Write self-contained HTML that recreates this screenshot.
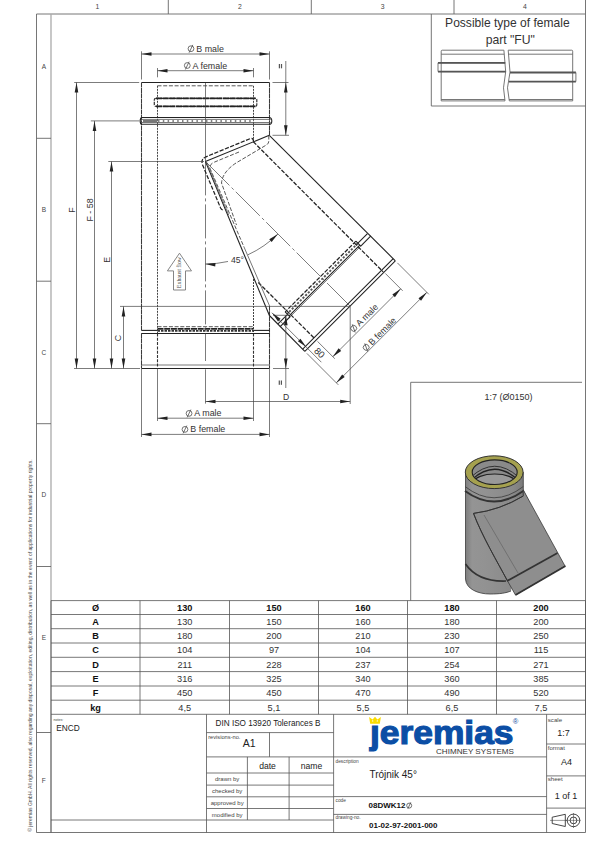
<!DOCTYPE html>
<html><head><meta charset="utf-8"><style>
html,body{margin:0;padding:0;background:#fff;}
svg{display:block;}
text{font-family:"Liberation Sans",sans-serif;fill:#333;}
.o{stroke:#222;stroke-width:1.1;fill:none;}
.ol{stroke:#555;stroke-width:0.8;fill:none;}
.thick{stroke:#444;stroke-width:1.8;fill:none;}
.hd{stroke:#222;stroke-width:1.25;fill:none;stroke-dasharray:4.2 1.5;}
.hd2{stroke:#444;stroke-width:1;fill:none;stroke-dasharray:2 1;}
.hdt{stroke:#333;stroke-width:1.2;fill:none;stroke-dasharray:3.2 1;}
.gdot{stroke:#555;stroke-width:1.9;fill:none;stroke-dasharray:2.2 1.6;}
.hdl{stroke:#444;stroke-width:0.9;fill:none;stroke-dasharray:4 1.7;}
.hd3{stroke:#333;stroke-width:1.1;fill:none;stroke-dasharray:3 1.3;}
.gdot2{stroke:#333;stroke-width:1.7;fill:none;stroke-dasharray:2.5 1;}
.ins{stroke:#666;stroke-width:0.9;fill:none;}
.insk{stroke:#555;stroke-width:1.8;fill:none;}
.dsym{stroke:#444;stroke-width:0.75;fill:none;}
.od{stroke:#3a3a3a;stroke-width:1.05;fill:none;stroke-dasharray:5 0.4;}
.gfill{stroke:#777;stroke-width:2.2;fill:none;}
.dots2{stroke:#555;stroke-width:1.4;fill:none;stroke-dasharray:1.5 3.3;}
.dots{stroke:#666;stroke-width:0.9;fill:none;stroke-dasharray:1 2.4;}
.cl{stroke:#444;stroke-width:0.7;fill:none;stroke-dasharray:34 3 3 3;}
.dim{stroke:#444;stroke-width:0.7;fill:none;}
.ar{fill:#222;stroke:none;}
.fr{stroke:#666;stroke-width:0.9;fill:none;}
.fr2{stroke:#aaa;stroke-width:1.3;fill:none;}
.tb{stroke:#555;stroke-width:0.8;fill:none;}
.t{fill:#333;}
.ea{stroke:#777;stroke-width:0.9;fill:none;}
.hdt2{stroke:#222;stroke-width:1.7;fill:none;stroke-dasharray:6 0.7;}
.t2{fill:#222;}
.zl{fill:#444;}
.cp{fill:#444;}
.big{fill:#333;}
.sm{fill:#444;}
.tbb{fill:#111;font-weight:bold;}
.tbr{fill:#333;}
.ser{font-family:"Liberation Serif",serif;fill:#444;}
.sym{stroke:#333;stroke-width:0.9;fill:none;}
.symt{stroke:#333;stroke-width:0.5;fill:none;}
.logo{font-weight:bold;fill:#0b4ea5;stroke:#0b4ea5;stroke-width:1.2;font-family:"Liberation Sans",sans-serif;}
.crown{fill:#fbdc00;stroke:none;}
.reg{fill:#0d4a9e;}
.cs{fill:#333;}
</style></head>
<body><svg width="600" height="848" viewBox="0 0 600 848">
<line x1="36.5" y1="14" x2="585.5" y2="14" class="fr"/>
<line x1="36.5" y1="14" x2="36.5" y2="832.5" class="fr"/>
<line x1="51" y1="14" x2="51" y2="832.5" class="fr2"/>
<line x1="585.5" y1="0" x2="585.5" y2="832.5" class="fr"/>
<line x1="36.5" y1="832.5" x2="585.5" y2="832.5" class="fr"/>
<line x1="36.5" y1="138.3" x2="51" y2="138.3" class="fr"/>
<line x1="36.5" y1="281.2" x2="51" y2="281.2" class="fr"/>
<line x1="36.5" y1="423.7" x2="51" y2="423.7" class="fr"/>
<line x1="36.5" y1="566.5" x2="51" y2="566.5" class="fr"/>
<line x1="36.5" y1="732.5" x2="51" y2="732.5" class="fr"/>
<line x1="168.3" y1="0" x2="168.3" y2="14" class="fr"/>
<line x1="311.3" y1="0" x2="311.3" y2="14" class="fr"/>
<line x1="454" y1="0" x2="454" y2="14" class="fr"/>
<text x="97.5" y="9" font-size="6.8" text-anchor="middle" class="zl">1</text>
<text x="239.8" y="9" font-size="6.8" text-anchor="middle" class="zl">2</text>
<text x="382.6" y="9" font-size="6.8" text-anchor="middle" class="zl">3</text>
<text x="525" y="9" font-size="6.8" text-anchor="middle" class="zl">4</text>
<text x="43.8" y="68.7" font-size="6.5" text-anchor="middle" class="zl">A</text>
<text x="43.8" y="212.1" font-size="6.5" text-anchor="middle" class="zl">B</text>
<text x="43.8" y="354.8" font-size="6.5" text-anchor="middle" class="zl">C</text>
<text x="43.8" y="497.3" font-size="6.5" text-anchor="middle" class="zl">D</text>
<text x="43.8" y="640.2" font-size="6.5" text-anchor="middle" class="zl">E</text>
<text x="43.8" y="782.8" font-size="6.5" text-anchor="middle" class="zl">F</text>
<text x="31.9" y="831.8" font-size="5.4" text-anchor="start" class="cp" transform="rotate(-90 31.9 831.8)" textLength="372.4" lengthAdjust="spacingAndGlyphs">© jeremias GmbH. All rights reserved, also regarding any disposal, exploitation, editing, distribution, as well as in the event of applications for industrial property rights.</text>
<line x1="431.3" y1="14" x2="431.3" y2="106" class="fr"/>
<line x1="431.3" y1="106" x2="585.5" y2="106" class="fr"/>
<text x="507.4" y="27" font-size="12.05" text-anchor="middle" class="big">Possible type of female</text>
<text x="510.3" y="43.5" font-size="12.2" text-anchor="middle" class="big">part "FU"</text>
<path d="M441.2,100.9 L441.2,51.2 Q441.2,50.2 442.2,50.2 L503.9,50.2 L505.7,71.7 L503.5,87.8 L505,100.9 Z" class="ins"/>
<line x1="441.2" y1="54.2" x2="504.2" y2="54.2" class="ins"/>
<line x1="441.2" y1="99.5" x2="504.9" y2="99.5" class="ins"/>
<path d="M438,62.8 L505.2,62.8 M438,71.6 L505.7,71.6 M438,62.8 L438,71.6" class="ins"/>
<line x1="438" y1="62.8" x2="505.2" y2="62.8" class="insk"/>
<line x1="438" y1="71.6" x2="505.7" y2="71.6" class="insk"/>
<path d="M509.3,100.9 L507.5,87.8 L510,72.1 L508.2,50.2 L571.7,50.2 Q572.7,50.2 572.7,51.2 L572.7,100.9 Z" class="ins"/>
<line x1="508.5" y1="54.2" x2="572.7" y2="54.2" class="ins"/>
<line x1="509.1" y1="99.5" x2="572.7" y2="99.5" class="ins"/>
<path d="M575.9,72.5 L575.9,81.6" class="ins"/>
<line x1="510" y1="72.5" x2="575.9" y2="72.5" class="insk"/>
<line x1="509" y1="81.6" x2="575.9" y2="81.6" class="insk"/>
<line x1="141.5" y1="82.5" x2="269.5" y2="82.5" class="o"/>
<line x1="141.5" y1="82.5" x2="141.5" y2="330.4" class="od"/>
<line x1="141.5" y1="333.2" x2="141.5" y2="368.5" class="od"/>
<line x1="269.5" y1="82.5" x2="269.5" y2="135.3" class="od"/>
<line x1="269.5" y1="305.8" x2="269.5" y2="368.5" class="od"/>
<line x1="141.5" y1="368.5" x2="269.5" y2="368.5" class="o"/>
<line x1="141.5" y1="365" x2="269.5" y2="365" class="ol"/>
<line x1="157.5" y1="85.8" x2="253.5" y2="85.8" class="hdl"/>
<line x1="157.5" y1="85.8" x2="157.5" y2="333.5" class="hd2"/>
<line x1="157.5" y1="333.5" x2="157.5" y2="368.5" class="hd3"/>
<line x1="253.5" y1="85.8" x2="253.5" y2="141.6" class="hd2"/>
<line x1="253.5" y1="279" x2="253.5" y2="333.5" class="hd2"/>
<line x1="253.5" y1="333.5" x2="253.5" y2="368.5" class="hd3"/>
<path d="M156,98.3 L255.5,98.3 Q256.8,98.3 256.8,99.8 L256.8,104.8 Q256.8,106.3 255.5,106.3 L156,106.3 Q154.3,106.3 154.3,104.8 L154.3,99.8 Q154.3,98.3 156,98.3 Z" class="hdt"/>
<line x1="156" y1="98.3" x2="255.5" y2="98.3" class="hdt2"/>
<line x1="156" y1="106.3" x2="255.5" y2="106.3" class="hdt2"/>
<path d="M142,117.5 L269,117.5 Q271.8,117.5 271.8,120.9 Q271.8,124.3 269,124.3 L142,124.3 Q140.2,124.3 140.2,120.9 Q140.2,117.5 142,117.5 Z" class="o"/>
<line x1="141" y1="119.4" x2="270.8" y2="119.4" class="ol"/>
<line x1="141" y1="122.5" x2="270.8" y2="122.5" class="ol"/>
<line x1="143" y1="120.95" x2="157" y2="120.95" class="gfill"/>
<line x1="158" y1="120.95" x2="253" y2="120.95" class="dots2"/>
<line x1="141.5" y1="330.4" x2="157.5" y2="330.4" class="o"/>
<line x1="253.5" y1="330.4" x2="269.5" y2="330.4" class="o"/>
<line x1="141.5" y1="333.5" x2="269.5" y2="333.5" class="o"/>
<line x1="157.5" y1="326.7" x2="253.5" y2="326.7" class="hdl"/>
<line x1="157.5" y1="328.8" x2="253.5" y2="328.8" class="hdt2"/>
<line x1="157.5" y1="330.9" x2="253.5" y2="330.9" class="gdot2"/>
<line x1="205.5" y1="83" x2="205.5" y2="161.4" class="dim"/>
<line x1="205.5" y1="161.4" x2="205.5" y2="361" class="cl"/>
<line x1="205.5" y1="369.3" x2="205.5" y2="403.6" class="dim"/>
<line x1="205.4" y1="161.4" x2="269.3" y2="135.3" class="o"/>
<line x1="269.3" y1="135.3" x2="395.33" y2="260.82" class="o"/>
<line x1="205.4" y1="161.4" x2="269.4" y2="315.5" class="o"/>
<line x1="206.9" y1="162.5" x2="228.7" y2="215" class="ol"/>
<line x1="269.4" y1="315.5" x2="304.82" y2="351.33" class="o"/>
<line x1="395.33" y1="260.82" x2="304.82" y2="351.33" class="o"/>
<line x1="393.21" y1="258.7" x2="302.7" y2="349.21" class="o"/>
<line x1="370.86" y1="235.93" x2="360.75" y2="246.04" class="o"/>
<line x1="367.47" y1="233.67" x2="357.92" y2="243.21" class="o"/>
<line x1="290.04" y1="316.75" x2="280.14" y2="326.65" class="o"/>
<line x1="287.57" y1="314.28" x2="278.02" y2="323.82" class="o"/>
<line x1="355.87" y1="241.16" x2="285.16" y2="311.87" class="hd"/>
<line x1="357.92" y1="243.21" x2="287.21" y2="313.92" class="gdot"/>
<line x1="359.83" y1="245.12" x2="289.12" y2="315.83" class="o"/>
<line x1="360.82" y1="246.11" x2="290.11" y2="316.82" class="ol"/>
<path d="M285.16,311.87 L290.11,316.82" class="o"/>
<path d="M355.87,241.16 L360.82,246.11" class="o"/>
<line x1="253.3" y1="141.7" x2="383.17" y2="271.85" class="hd"/>
<line x1="258.3" y1="282.5" x2="314.44" y2="338.32" class="hd"/>
<path d="M253.5,141.6 Q253.5,137.6 250.2,138.6 L206,156.8 Q200.3,159.3 202.6,165 L220.6,208 Q221.5,210 223.5,209.8" class="hd"/>
<path d="M268.8,135.5 L268.8,141 Q268.8,144 265.5,145.5 L236,163 Q222.5,172 221.5,183 L236.5,225" class="hdl"/>
<path d="M239,152 L214,162.3 Q208.5,164.8 210.5,169.5 L244,247" class="hdl"/>
<line x1="244" y1="247" x2="269.5" y2="305.8" class="ol"/>
<line x1="205.4" y1="161.4" x2="350.07" y2="306.07" class="cl"/>
<line x1="141.5" y1="51.3" x2="141.5" y2="79.5" class="dim"/>
<line x1="269.5" y1="51.3" x2="269.5" y2="79.5" class="dim"/>
<line x1="141.5" y1="54" x2="269.5" y2="54" class="dim"/>
<polygon points="141.5,54 151.5,52.2 151.5,55.8" class="ar"/>
<polygon points="269.5,54 259.5,55.8 259.5,52.2" class="ar"/>
<g><circle cx="191" cy="48.7" r="2.9" class="dsym"/><line x1="189.1" y1="52.7" x2="192.8" y2="44.9" class="dsym"/><text x="196.3" y="51.7" font-size="8.9" text-anchor="start" class="t">B male</text></g>
<line x1="157.5" y1="68" x2="157.5" y2="77.3" class="dim"/>
<line x1="253.5" y1="68" x2="253.5" y2="77.3" class="dim"/>
<line x1="157.5" y1="70.7" x2="253.5" y2="70.7" class="dim"/>
<polygon points="157.5,70.7 167.5,68.9 167.5,72.5" class="ar"/>
<polygon points="253.5,70.7 243.5,72.5 243.5,68.9" class="ar"/>
<g><circle cx="187.28" cy="65.5" r="2.9" class="dsym"/><line x1="185.38" y1="69.5" x2="189.08" y2="61.7" class="dsym"/><text x="192.58" y="68.5" font-size="8.9" text-anchor="start" class="t">A female</text></g>
<line x1="272.5" y1="82.5" x2="288.5" y2="82.5" class="dim"/>
<line x1="272.5" y1="135.3" x2="289" y2="135.3" class="dim"/>
<line x1="285.8" y1="61" x2="285.8" y2="135.3" class="dim"/>
<polygon points="285.8,82.5 287.6,92.5 284,92.5" class="ar"/>
<polygon points="285.8,135.3 284,125.3 287.6,125.3" class="ar"/>
<rect x="278.8" y="64" width="1.2" height="4.3" fill="#555"/><rect x="280.9" y="64" width="1.2" height="4.3" fill="#555"/>
<line x1="74.2" y1="82.5" x2="139.2" y2="82.5" class="dim"/>
<line x1="76.5" y1="82.5" x2="76.5" y2="368.5" class="dim"/>
<polygon points="76.5,82.5 78.3,92.5 74.7,92.5" class="ar"/>
<polygon points="76.5,368.5 74.7,358.5 78.3,358.5" class="ar"/>
<text x="75.2" y="210" font-size="8.9" text-anchor="middle" class="t" transform="rotate(-90 75.2 210)">F</text>
<line x1="90.8" y1="120.9" x2="139.5" y2="120.9" class="dim"/>
<line x1="94.5" y1="120.9" x2="94.5" y2="368.5" class="dim"/>
<polygon points="94.5,120.9 96.3,130.9 92.7,130.9" class="ar"/>
<polygon points="94.5,368.5 92.7,358.5 96.3,358.5" class="ar"/>
<text x="92.9" y="210" font-size="8.9" text-anchor="middle" class="t" transform="rotate(-90 92.9 210)">F - 58</text>
<line x1="108.3" y1="161.5" x2="204" y2="161.5" class="dim"/>
<line x1="111.5" y1="161.5" x2="111.5" y2="368.5" class="dim"/>
<polygon points="111.5,161.5 113.3,171.5 109.7,171.5" class="ar"/>
<polygon points="111.5,368.5 109.7,358.5 113.3,358.5" class="ar"/>
<text x="109.8" y="259.8" font-size="8.9" text-anchor="middle" class="t" transform="rotate(-90 109.8 259.8)">E</text>
<line x1="120" y1="306.4" x2="350.2" y2="306.4" class="dim"/>
<line x1="123.5" y1="306.4" x2="123.5" y2="368.5" class="dim"/>
<polygon points="123.5,306.4 125.3,316.4 121.7,316.4" class="ar"/>
<polygon points="123.5,368.5 121.7,358.5 125.3,358.5" class="ar"/>
<text x="121.4" y="338" font-size="8.9" text-anchor="middle" class="t" transform="rotate(-90 121.4 338)">C</text>
<line x1="74" y1="368.5" x2="140" y2="368.5" class="dim"/>
<path d="M173.5,290 L173.5,270.9 L167.4,270.9 L179.5,253.2 L191.5,270.9 L185.5,270.9 L185.5,290 Z" class="ea"/>
<text x="181" y="272.5" font-size="5.9" text-anchor="middle" class="ser" transform="rotate(-90 181 272.5)">Exhaust flow</text>
<path d="M205.4,264 A102.6,102.6 0 0 0 228,261.48" class="dim"/>
<path d="M248,254.74 A102.6,102.6 0 0 0 277.95,233.95" class="dim"/>
<polygon points="205.4,264 215.51,263 215.22,266.59" class="ar"/>
<polygon points="277.95,233.95 271.63,241.91 269.25,239.2" class="ar"/>
<text x="237.5" y="262.5" font-size="8.6" text-anchor="middle" class="t">45°</text>
<line x1="157.5" y1="369" x2="157.5" y2="421" class="dim"/>
<line x1="253.5" y1="369" x2="253.5" y2="421" class="dim"/>
<line x1="157.5" y1="418.2" x2="253.5" y2="418.2" class="dim"/>
<polygon points="157.5,418.2 167.5,416.4 167.5,420" class="ar"/>
<polygon points="253.5,418.2 243.5,420 243.5,416.4" class="ar"/>
<g><circle cx="189.05" cy="413.4" r="2.9" class="dsym"/><line x1="187.15" y1="417.4" x2="190.85" y2="409.6" class="dsym"/><text x="194.35" y="416.4" font-size="8.9" text-anchor="start" class="t">A male</text></g>
<line x1="141.5" y1="369" x2="141.5" y2="437" class="dim"/>
<line x1="269.5" y1="369" x2="269.5" y2="437" class="dim"/>
<line x1="141.5" y1="434.4" x2="269.5" y2="434.4" class="dim"/>
<polygon points="141.5,434.4 151.5,432.6 151.5,436.2" class="ar"/>
<polygon points="269.5,434.4 259.5,436.2 259.5,432.6" class="ar"/>
<g><circle cx="184.99" cy="429.4" r="2.9" class="dsym"/><line x1="183.09" y1="433.4" x2="186.79" y2="425.6" class="dsym"/><text x="190.29" y="432.4" font-size="8.9" text-anchor="start" class="t">B female</text></g>
<line x1="350.2" y1="306.4" x2="350.2" y2="404" class="dim"/>
<line x1="205.5" y1="401.5" x2="350.2" y2="401.5" class="dim"/>
<polygon points="205.5,401.5 215.5,399.7 215.5,403.3" class="ar"/>
<polygon points="350.2,401.5 340.2,403.3 340.2,399.7" class="ar"/>
<text x="286" y="399.6" font-size="8.6" text-anchor="middle" class="t">D</text>
<line x1="273" y1="315.3" x2="288" y2="315.3" class="dim"/>
<line x1="285.8" y1="315.3" x2="285.8" y2="388" class="dim"/>
<polygon points="285.8,315.3 287.6,325.3 284,325.3" class="ar"/>
<polygon points="285.8,368.5 284,358.5 287.6,358.5" class="ar"/>
<line x1="273" y1="368.5" x2="289" y2="368.5" class="dim"/>
<rect x="278.7" y="380.5" width="1.2" height="4.3" fill="#555"/><rect x="280.8" y="380.5" width="1.2" height="4.3" fill="#555"/>
<line x1="385.36" y1="273.48" x2="402.68" y2="290.8" class="dim"/>
<line x1="317.48" y1="341.36" x2="334.8" y2="358.68" class="dim"/>
<line x1="400.7" y1="288.82" x2="332.82" y2="356.7" class="dim"/>
<polygon points="400.7,288.82 394.9,297.16 392.36,294.62" class="ar"/>
<polygon points="332.82,356.7 338.62,348.36 341.16,350.9" class="ar"/>
<g transform="rotate(-45 366.27 320)"><circle cx="351.51" cy="317" r="2.9" class="dsym"/><line x1="349.61" y1="321" x2="353.31" y2="313.2" class="dsym"/><text x="356.81" y="320" font-size="8.9" text-anchor="start" class="t">A male</text></g>
<line x1="397.38" y1="262.87" x2="428.85" y2="294.34" class="dim"/>
<line x1="306.87" y1="353.38" x2="338.34" y2="384.85" class="dim"/>
<line x1="426.87" y1="292.36" x2="336.36" y2="382.87" class="dim"/>
<polygon points="426.87,292.36 421.07,300.7 418.52,298.15" class="ar"/>
<polygon points="336.36,382.87 342.15,374.52 344.7,377.07" class="ar"/>
<g transform="rotate(-45 381.54 336.27)"><circle cx="362.83" cy="333.27" r="2.9" class="dsym"/><line x1="360.93" y1="337.27" x2="364.63" y2="329.47" class="dsym"/><text x="368.13" y="336.27" font-size="8.9" text-anchor="start" class="t">B female</text></g>
<line x1="271.87" y1="312.72" x2="321.37" y2="362.22" class="dim"/>
<polygon points="272.22,313.07 280.57,318.87 278.02,321.42" class="ar"/>
<polygon points="306.23,347.09 297.89,341.29 300.44,338.74" class="ar"/>
<text x="317.19" y="355.08" font-size="9.4" text-anchor="middle" class="t" transform="rotate(45 317.19 355.08)">80</text>
<line x1="410.7" y1="382.3" x2="582" y2="382.3" class="fr"/>
<line x1="410.7" y1="382.3" x2="410.7" y2="600.5" class="fr"/>
<text x="508.5" y="399.8" font-size="9" text-anchor="middle" class="t">1:7 (Ø0150)</text>
<line x1="51" y1="600.6" x2="585.5" y2="600.6" class="tb"/>
<line x1="51" y1="614.5" x2="585.5" y2="614.5" class="tb"/>
<line x1="51" y1="628.7" x2="585.5" y2="628.7" class="tb"/>
<line x1="51" y1="643" x2="585.5" y2="643" class="tb"/>
<line x1="51" y1="657.3" x2="585.5" y2="657.3" class="tb"/>
<line x1="51" y1="671.6" x2="585.5" y2="671.6" class="tb"/>
<line x1="51" y1="686" x2="585.5" y2="686" class="tb"/>
<line x1="51" y1="700.2" x2="585.5" y2="700.2" class="tb"/>
<line x1="51" y1="714.3" x2="585.5" y2="714.3" class="tb"/>
<line x1="51" y1="600.6" x2="51" y2="714.3" class="tb"/>
<line x1="140" y1="600.6" x2="140" y2="714.3" class="tb"/>
<line x1="229.5" y1="600.6" x2="229.5" y2="714.3" class="tb"/>
<line x1="318.5" y1="600.6" x2="318.5" y2="714.3" class="tb"/>
<line x1="407.5" y1="600.6" x2="407.5" y2="714.3" class="tb"/>
<line x1="496.5" y1="600.6" x2="496.5" y2="714.3" class="tb"/>
<line x1="585.5" y1="600.6" x2="585.5" y2="714.3" class="tb"/>
<text x="95.5" y="610.9" font-size="9.2" text-anchor="middle" class="tbb">Ø</text>
<text x="184.75" y="610.9" font-size="9.2" text-anchor="middle" class="tbb">130</text>
<text x="274" y="610.9" font-size="9.2" text-anchor="middle" class="tbb">150</text>
<text x="363" y="610.9" font-size="9.2" text-anchor="middle" class="tbb">160</text>
<text x="452" y="610.9" font-size="9.2" text-anchor="middle" class="tbb">180</text>
<text x="541" y="610.9" font-size="9.2" text-anchor="middle" class="tbb">200</text>
<text x="95.5" y="624.8" font-size="9.2" text-anchor="middle" class="tbb">A</text>
<text x="184.75" y="624.8" font-size="9.2" text-anchor="middle" class="tbr">130</text>
<text x="274" y="624.8" font-size="9.2" text-anchor="middle" class="tbr">150</text>
<text x="363" y="624.8" font-size="9.2" text-anchor="middle" class="tbr">160</text>
<text x="452" y="624.8" font-size="9.2" text-anchor="middle" class="tbr">180</text>
<text x="541" y="624.8" font-size="9.2" text-anchor="middle" class="tbr">200</text>
<text x="95.5" y="639" font-size="9.2" text-anchor="middle" class="tbb">B</text>
<text x="184.75" y="639" font-size="9.2" text-anchor="middle" class="tbr">180</text>
<text x="274" y="639" font-size="9.2" text-anchor="middle" class="tbr">200</text>
<text x="363" y="639" font-size="9.2" text-anchor="middle" class="tbr">210</text>
<text x="452" y="639" font-size="9.2" text-anchor="middle" class="tbr">230</text>
<text x="541" y="639" font-size="9.2" text-anchor="middle" class="tbr">250</text>
<text x="95.5" y="653.3" font-size="9.2" text-anchor="middle" class="tbb">C</text>
<text x="184.75" y="653.3" font-size="9.2" text-anchor="middle" class="tbr">104</text>
<text x="274" y="653.3" font-size="9.2" text-anchor="middle" class="tbr">97</text>
<text x="363" y="653.3" font-size="9.2" text-anchor="middle" class="tbr">104</text>
<text x="452" y="653.3" font-size="9.2" text-anchor="middle" class="tbr">107</text>
<text x="541" y="653.3" font-size="9.2" text-anchor="middle" class="tbr">115</text>
<text x="95.5" y="667.6" font-size="9.2" text-anchor="middle" class="tbb">D</text>
<text x="184.75" y="667.6" font-size="9.2" text-anchor="middle" class="tbr">211</text>
<text x="274" y="667.6" font-size="9.2" text-anchor="middle" class="tbr">228</text>
<text x="363" y="667.6" font-size="9.2" text-anchor="middle" class="tbr">237</text>
<text x="452" y="667.6" font-size="9.2" text-anchor="middle" class="tbr">254</text>
<text x="541" y="667.6" font-size="9.2" text-anchor="middle" class="tbr">271</text>
<text x="95.5" y="681.9" font-size="9.2" text-anchor="middle" class="tbb">E</text>
<text x="184.75" y="681.9" font-size="9.2" text-anchor="middle" class="tbr">316</text>
<text x="274" y="681.9" font-size="9.2" text-anchor="middle" class="tbr">325</text>
<text x="363" y="681.9" font-size="9.2" text-anchor="middle" class="tbr">340</text>
<text x="452" y="681.9" font-size="9.2" text-anchor="middle" class="tbr">360</text>
<text x="541" y="681.9" font-size="9.2" text-anchor="middle" class="tbr">385</text>
<text x="95.5" y="696.3" font-size="9.2" text-anchor="middle" class="tbb">F</text>
<text x="184.75" y="696.3" font-size="9.2" text-anchor="middle" class="tbr">450</text>
<text x="274" y="696.3" font-size="9.2" text-anchor="middle" class="tbr">450</text>
<text x="363" y="696.3" font-size="9.2" text-anchor="middle" class="tbr">470</text>
<text x="452" y="696.3" font-size="9.2" text-anchor="middle" class="tbr">490</text>
<text x="541" y="696.3" font-size="9.2" text-anchor="middle" class="tbr">520</text>
<text x="95.5" y="710.5" font-size="9.2" text-anchor="middle" class="tbb">kg</text>
<text x="184.75" y="710.5" font-size="9.2" text-anchor="middle" class="tbr">4,5</text>
<text x="274" y="710.5" font-size="9.2" text-anchor="middle" class="tbr">5,1</text>
<text x="363" y="710.5" font-size="9.2" text-anchor="middle" class="tbr">5,5</text>
<text x="452" y="710.5" font-size="9.2" text-anchor="middle" class="tbr">6,5</text>
<text x="541" y="710.5" font-size="9.2" text-anchor="middle" class="tbr">7,5</text>
<line x1="51" y1="820" x2="333.6" y2="820" class="tb"/>
<line x1="51" y1="714.3" x2="51" y2="832.5" class="tb"/>
<line x1="206.5" y1="714.3" x2="206.5" y2="832.5" class="tb"/>
<line x1="333.6" y1="714.3" x2="333.6" y2="832.5" class="tb"/>
<line x1="546.6" y1="714.3" x2="546.6" y2="832.5" class="tb"/>
<line x1="206.5" y1="732.6" x2="333.6" y2="732.6" class="tb"/>
<line x1="206.5" y1="756.9" x2="546.6" y2="756.9" class="tb"/>
<line x1="269.5" y1="732.6" x2="269.5" y2="756.9" class="tb"/>
<line x1="247.4" y1="756.9" x2="247.4" y2="820" class="tb"/>
<line x1="289.1" y1="756.9" x2="289.1" y2="820" class="tb"/>
<line x1="206.5" y1="773" x2="333.6" y2="773" class="tb"/>
<line x1="206.5" y1="785.1" x2="333.6" y2="785.1" class="tb"/>
<line x1="206.5" y1="796.8" x2="333.6" y2="796.8" class="tb"/>
<line x1="206.5" y1="808.5" x2="333.6" y2="808.5" class="tb"/>
<line x1="333.6" y1="796.6" x2="546.6" y2="796.6" class="tb"/>
<line x1="333.6" y1="814.4" x2="546.6" y2="814.4" class="tb"/>
<line x1="546.6" y1="744" x2="585.5" y2="744" class="tb"/>
<line x1="546.6" y1="775.9" x2="585.5" y2="775.9" class="tb"/>
<line x1="546.6" y1="808.1" x2="585.5" y2="808.1" class="tb"/>
<text x="53.5" y="720.5" font-size="3.6" text-anchor="start" class="sm">notes:</text>
<text x="56.3" y="731.2" font-size="8.3" text-anchor="start" class="t2">ENCD</text>
<text x="268" y="725.9" font-size="8.2" text-anchor="middle" class="t2">DIN ISO 13920 Tolerances B</text>
<text x="208.2" y="738.5" font-size="5.7" text-anchor="start" class="sm">revisions-no.</text>
<text x="249.2" y="747.4" font-size="10.5" text-anchor="middle" class="t2">A1</text>
<text x="267.5" y="769" font-size="8.6" text-anchor="middle" class="t2">date</text>
<text x="311.5" y="769" font-size="8.6" text-anchor="middle" class="t2">name</text>
<text x="227.2" y="780.9" font-size="6" text-anchor="middle" class="sm">drawn by</text>
<text x="227.2" y="793.2" font-size="6" text-anchor="middle" class="sm">checked by</text>
<text x="227.2" y="804.9" font-size="6" text-anchor="middle" class="sm">approved by</text>
<text x="227.2" y="816.8" font-size="6" text-anchor="middle" class="sm">modified by</text>
<text x="335.5" y="763" font-size="4.8" text-anchor="start" class="sm">description</text>
<text x="369.4" y="777.8" font-size="10" text-anchor="start" class="t2">Trójnik 45°</text>
<text x="335.5" y="801.6" font-size="4.8" text-anchor="start" class="sm">code</text>
<text x="368.5" y="808.4" font-size="8" text-anchor="start" class="tbb">08DWK12</text>
<circle cx="409.2" cy="805.6" r="2.5" class="dsym"/><line x1="407.8" y1="808.8" x2="410.8" y2="802.3" class="dsym"/>
<text x="335.5" y="819.2" font-size="4.8" text-anchor="start" class="sm">drawing-no.</text>
<text x="369" y="827.6" font-size="8" text-anchor="start" class="tbb">01-02-97-2001-000</text>
<text x="547.8" y="722.3" font-size="6.1" text-anchor="start" class="sm">scale</text>
<text x="563.5" y="736" font-size="9" text-anchor="middle" class="t2">1:7</text>
<text x="547.8" y="749.7" font-size="6" text-anchor="start" class="sm">format</text>
<text x="566.5" y="764.5" font-size="9" text-anchor="middle" class="t2">A4</text>
<text x="547.8" y="781.3" font-size="6.1" text-anchor="start" class="sm">sheet</text>
<text x="566" y="799" font-size="9" text-anchor="middle" class="t2">1 of 1</text>
<path d="M552.2,817.2 L565.3,814.3 L565.3,826.5 L552.2,823.5 Z" class="sym"/>
<line x1="550" y1="820.4" x2="567" y2="820.4" class="symt"/>
<circle cx="573.5" cy="820.4" r="6.3" class="sym"/>
<circle cx="573.5" cy="820.4" r="3.4" class="sym"/>
<line x1="566.2" y1="820.4" x2="580.6" y2="820.4" class="symt"/>
<line x1="573.5" y1="813" x2="573.5" y2="828" class="symt"/>
<text x="370" y="743.7" font-size="34" class="logo" textLength="143.5" lengthAdjust="spacingAndGlyphs">jeremias</text>
<rect x="369" y="715" width="13" height="9.6" fill="#fff"/>
<path d="M370.2,723.8 L369.1,717.1 L372.6,719.6 L375,716.8 L377.4,719.6 L380.9,717.1 L379.8,723.8 Z" class="crown"/>
<circle cx="372.7" cy="720.9" r="0.65" fill="#fff"/><circle cx="377.3" cy="720.9" r="0.65" fill="#fff"/>
<text x="515.4" y="724.3" font-size="7.5" text-anchor="middle" class="reg">®</text>
<text x="475" y="754.2" font-size="7" text-anchor="middle" class="cs" textLength="78" lengthAdjust="spacingAndGlyphs">CHIMNEY SYSTEMS</text>
<defs>
<linearGradient id="gb" x1="465" y1="0" x2="524" y2="0" gradientUnits="userSpaceOnUse">
<stop offset="0" stop-color="#7c7c7c"/><stop offset="0.12" stop-color="#949494"/><stop offset="0.35" stop-color="#929292"/><stop offset="0.8" stop-color="#8a8a8a"/><stop offset="1" stop-color="#7a7a7a"/>
</linearGradient>
<clipPath id="hole"><ellipse cx="494.7" cy="472.2" rx="22.5" ry="12.3"/></clipPath>
</defs>
<g stroke-linejoin="round">
<path d="M465.5,472 L465.5,579 C466,589 478,594 490,594 C500,594 506,593 511,591 L530,503 L523.3,489 L523.3,472 Z" fill="url(#gb)" stroke="none"/>
<path d="M523.3,495 L523.3,472 M465.5,472 L465.5,579 C466,589 478,594 490,594 C500,594 506,593 511,591" fill="none" stroke="#3a3a3a" stroke-width="0.8"/>
<path d="M465,486.5 Q494,509 523.3,486.5" fill="none" stroke="#444" stroke-width="0.9"/>
<path d="M465,491 Q494,512 523.3,491" fill="none" stroke="#333" stroke-width="1.9"/>
<path d="M465.5,564 Q478,582 506,581" fill="none" stroke="#333" stroke-width="1.7"/>
<path d="M523.3,490 L565,566 L515.5,595 L507,580 C498,563 482,536 473.5,513.4 Q500,510 523.3,496 Z" fill="#8e8e8e" stroke="#3a3a3a" stroke-width="0.8"/>
<path d="M473.5,513.4 C482,536 498,563 507,580" fill="none" stroke="#333" stroke-width="1"/>
<path d="M473.5,513.4 Q500,510 523.3,496" fill="none" stroke="#333" stroke-width="1"/>
<path d="M484,515 L518,573" fill="none" stroke="#555" stroke-width="0.5"/>
<path d="M557.5,553 L507,581" fill="none" stroke="#333" stroke-width="1.8"/>
<path d="M565.5,566 L515.5,595" fill="none" stroke="#333" stroke-width="1.7"/>
<ellipse cx="494.2" cy="472.2" rx="28.9" ry="16.4" fill="#a5a14f" stroke="#333" stroke-width="1"/>
<ellipse cx="494.7" cy="472.2" rx="22.5" ry="12.3" fill="#8a8a8a" stroke="none"/>
<g clip-path="url(#hole)">
<path d="M471,477 Q494.7,455.5 518.5,477" fill="none" stroke="#333" stroke-width="1"/>
<path d="M472,479.5 Q494.7,459 517.5,479.5" fill="none" stroke="#222" stroke-width="1.3"/>
<ellipse cx="494.7" cy="482" rx="20.5" ry="8" fill="#999" stroke="#222" stroke-width="1.2"/>
</g>
<ellipse cx="494.7" cy="472.2" rx="22.5" ry="12.3" fill="none" stroke="#222" stroke-width="1.1"/>
</g>

</svg></body></html>
